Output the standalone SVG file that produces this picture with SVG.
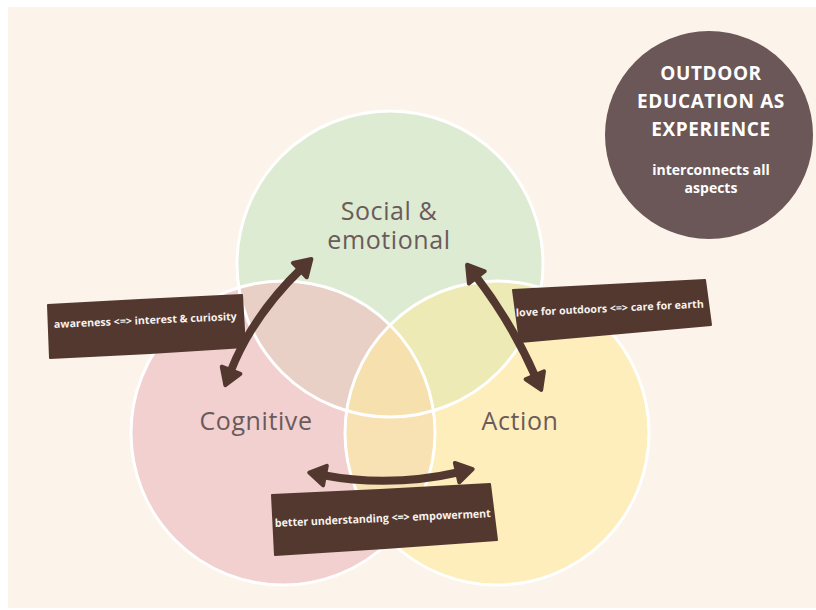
<svg xmlns="http://www.w3.org/2000/svg" width="816" height="610" viewBox="0 0 816 610">
  <style>
    .ring { fill: none; stroke: #ffffff; stroke-width: 3; }
    .area { font-family: "Open Sans", "DejaVu Sans", sans-serif; font-size: 25px; letter-spacing: 0.6px; fill: #6b5a5b; text-anchor: middle; }
    .title { font-family: "Open Sans", "DejaVu Sans", sans-serif; font-weight: 700; font-size: 19px; fill: #ffffff; text-anchor: middle; letter-spacing: 0.6px; }
    .sub { font-family: "Open Sans", "DejaVu Sans", sans-serif; font-weight: 700; font-size: 14px; fill: #ffffff; text-anchor: middle; }
    .link { fill: none; stroke: #533830; stroke-width: 8; stroke-linecap: round; marker-start: url(#head); marker-end: url(#head); }
    .tag { fill: #533830; stroke: #533830; stroke-width: 2; stroke-linejoin: round; }
    .tagtext { font-family: "Open Sans", "DejaVu Sans", sans-serif; font-weight: 700; font-size: 10.5px; fill: #f7f2ee; text-anchor: middle; }
  </style>
  <defs>
    <marker id="head" viewBox="-4 -15 26 30" refX="3" refY="0" markerWidth="26" markerHeight="30" markerUnits="userSpaceOnUse" orient="auto-start-reverse">
      <path d="M0,-10 L16,0 L0,10 Z" fill="#533830" stroke="#533830" stroke-width="4" stroke-linejoin="round"/>
    </marker>
    <clipPath id="clipSocial"><circle cx="390" cy="264" r="153"/></clipPath>
    <clipPath id="clipCognitive"><circle cx="283" cy="433" r="152"/></clipPath>
    <clipPath id="clipAction"><circle cx="497" cy="433" r="152"/></clipPath>
  </defs>

  <!-- background -->
  <rect x="8" y="7" width="808" height="601" fill="#fcf3ea"/>

  <!-- venn fills and overlaps -->
  <g id="venn-fills">
    <circle cx="283" cy="433" r="152" fill="#f2d0cf"/>
    <circle cx="497" cy="433" r="152" fill="#fdeebc"/>
    <circle cx="390" cy="264" r="153" fill="#dcebd2"/>
    <circle cx="283" cy="433" r="152" fill="#e8d0c7" clip-path="url(#clipSocial)"/>
    <circle cx="497" cy="433" r="152" fill="#eeeab6" clip-path="url(#clipSocial)"/>
    <circle cx="497" cy="433" r="152" fill="#f8e2b3" clip-path="url(#clipCognitive)"/>
    <g clip-path="url(#clipSocial)">
      <circle cx="497" cy="433" r="152" fill="#f6e0ae" clip-path="url(#clipCognitive)"/>
    </g>
  </g>

  <g id="node-social">
    <circle class="ring" cx="390" cy="264" r="153"/>
    <text class="area" x="389" y="220">Social &amp;</text>
    <text class="area" x="389" y="249">emotional</text>
  </g>
  <g id="node-cognitive">
    <circle class="ring" cx="283" cy="433" r="152"/>
    <text class="area" x="256" y="430">Cognitive</text>
  </g>
  <g id="node-action">
    <circle class="ring" cx="497" cy="433" r="152"/>
    <text class="area" x="520" y="430">Action</text>
  </g>

  <g id="node-outdoor">
    <circle cx="709" cy="135" r="104" fill="#6b5757"/>
    <text class="title" x="711" y="80">OUTDOOR</text>
    <text class="title" x="711" y="108">EDUCATION AS</text>
    <text class="title" x="711" y="136">EXPERIENCE</text>
    <text class="sub" x="711" y="175">interconnects all</text>
    <text class="sub" x="711" y="193">aspects</text>
  </g>

  <!-- connectors with their labels -->
  <g id="connectors">
    <g id="link-social-cognitive">
      <path class="link" d="M230,373 Q252,316 302,268"/>
      <path class="tag" d="M48,305 L140,300 L242,295 L245,347 L150,353 L50,358 Z"/>
      <text class="tagtext" x="145.5" y="324" transform="rotate(-2.5 145.5 324)" textLength="183" lengthAdjust="spacingAndGlyphs">awareness &lt;=&gt; interest &amp; curiosity</text>
    </g>
    <g id="link-social-action">
      <path class="link" d="M475,275 Q512,323 536,378"/>
      <path class="tag" d="M513,290 L610,285 L705,280 L711,325 L610,334 L520,342 Z"/>
      <text class="tagtext" x="610" y="312" transform="rotate(-2.7 610 312)" textLength="188" lengthAdjust="spacingAndGlyphs">love for outdoors &lt;=&gt; care for earth</text>
    </g>
    <g id="link-cognitive-action">
      <path class="link" d="M322,475 Q390,488 460,472"/>
      <path class="tag" d="M272,495 L380,490 L490,484 L497,540 L385,548 L275,555 Z"/>
      <text class="tagtext" x="383" y="522" transform="rotate(-2.6 383 522)" textLength="216" lengthAdjust="spacingAndGlyphs" style="font-size:11px">better understanding &lt;=&gt; empowerment</text>
    </g>
  </g>
</svg>
